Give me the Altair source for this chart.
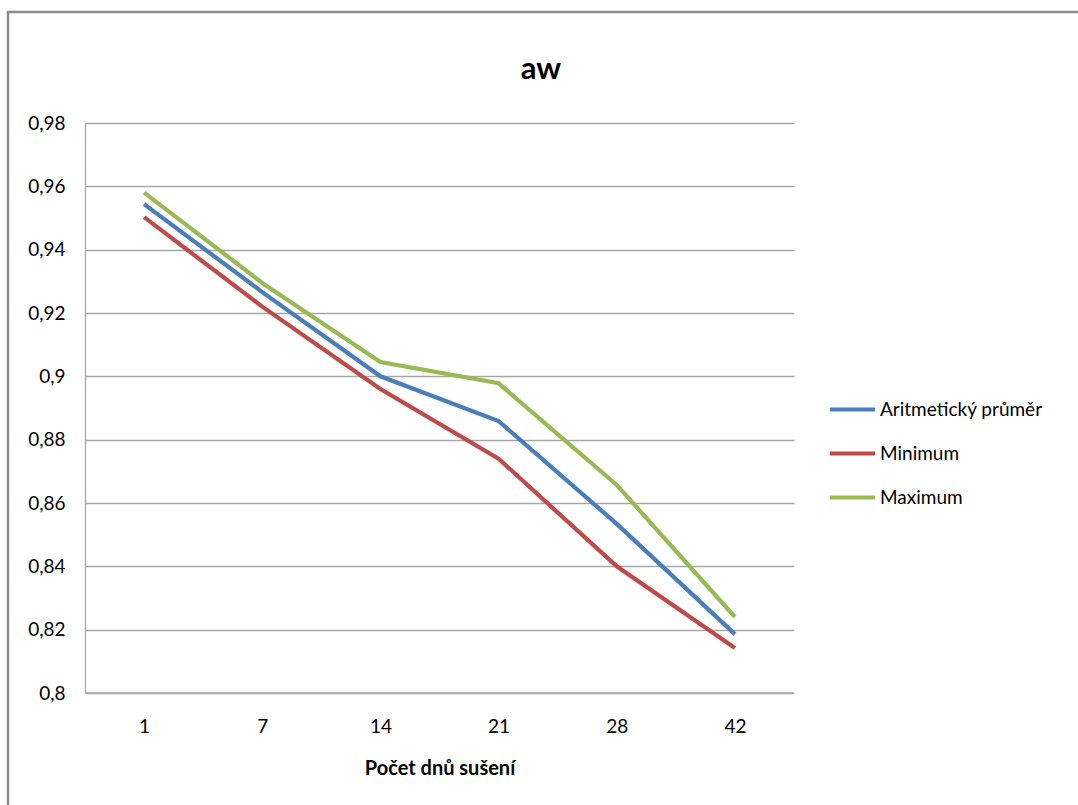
import altair as alt
import pandas as pd

days = ["1", "7", "14", "21", "28", "42"]
prumer = [0.9544, 0.9266, 0.9000, 0.8859, 0.8534, 0.8186]
minimum = [0.9503, 0.9220, 0.8960, 0.8740, 0.8400, 0.8142]
maximum = [0.9580, 0.9295, 0.9045, 0.8978, 0.8657, 0.8240]
series = ["Aritmetický průměr", "Minimum", "Maximum"]
colors = ["#4A7EBB", "#BE4B48", "#98B954"]
chart_title = "aw"

rows = []
for name, vals in zip(series, [prumer, minimum, maximum]):
    for d, v in zip(days, vals):
        rows.append({"den": d, "aw": v, "serie": name})
df = pd.DataFrame(rows)

FONT = "Lato"

lines = alt.Chart(df).mark_line(strokeWidth=4.2, clip=False).encode(
    x=alt.X("den:O", sort=days,
            scale=alt.Scale(type="point", padding=0.5),
            axis=alt.Axis(title="Počet dnů sušení", labelAngle=0, ticks=False,
                          domain=False, grid=False, labelFontSize=19,
                          labelPadding=24, titleFontSize=20, titleFontWeight="bold",
                          titlePadding=22, labelFont=FONT, titleFont=FONT,
                          labelColor="#000000", titleColor="#000000")),
    y=alt.Y("aw:Q", scale=alt.Scale(domain=[0.8, 0.98], nice=False, zero=False),
            axis=alt.Axis(title=None, values=[0.8, 0.82, 0.84, 0.86, 0.88, 0.9, 0.92, 0.94, 0.96, 0.98],
                          labelExpr="replace(format(datum.value, '.2~f'), '.', ',')",
                          ticks=False, grid=True, gridColor="#A6A6A6", gridWidth=1.3,
                          domainColor="#A6A6A6", domainWidth=1.3,
                          labelFontSize=19, labelPadding=20, labelFont=FONT,
                          labelColor="#000000")),
    color=alt.Color("serie:N", sort=series,
                    scale=alt.Scale(domain=series, range=colors),
                    legend=alt.Legend(title=None, orient="none", legendX=743, legendY=262,
                                      symbolType="stroke", symbolSize=2025,
                                      symbolStrokeWidth=4, labelFontSize=19,
                                      labelFont=FONT, labelColor="#000000",
                                      labelLimit=400,
                                      rowPadding=9, labelOffset=3)),
)

border = alt.Chart(pd.DataFrame({"a": [0]})).mark_rect(
    fill=None, stroke="#8C8C8C", strokeWidth=2.5, clip=False
).encode(
    x=alt.value(-77), x2=alt.value(1000),
    y=alt.value(-111), y2=alt.value(700),
)

bottom = alt.Chart(pd.DataFrame({"a": [0]})).mark_rule(color="#A6A6A6", strokeWidth=1.3).encode(
    x=alt.value(0), x2=alt.value(709), y=alt.value(570)
)

title = alt.Chart(pd.DataFrame({"t": [chart_title]})).mark_text(
    fontSize=31, fontWeight="bold", font=FONT, color="#000000",
    align="center", baseline="middle"
).encode(text="t:N", x=alt.value(456), y=alt.value(-53))

chart = alt.layer(border, bottom, lines, title).properties(
    width=709, height=570,
    autosize=alt.AutoSizeParams(type="none"),
    padding={"left": 85, "top": 123, "right": 284, "bottom": 112},
).configure_view(stroke=None)

chart.save("out.html", embed_options={"renderer": "svg", "actions": False})
